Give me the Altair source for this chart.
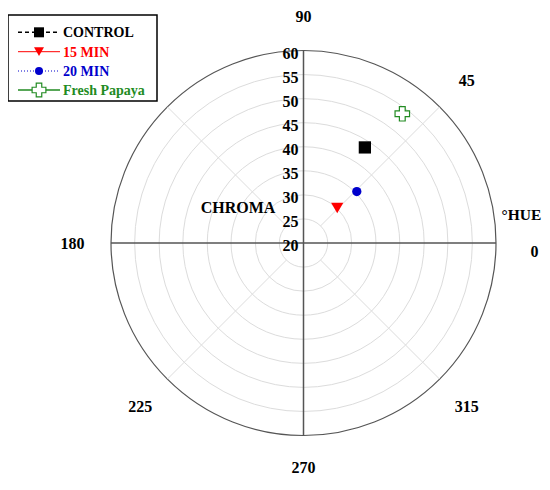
import math
import altair as alt
import pandas as pd

# ---- data ----
series = ["CONTROL", "15 MIN", "20 MIN", "Fresh Papaya"]
hue = [57.3, 46.1, 44.0, 52.6]          # degrees
chroma = [43.6, 30.1, 35.4, 53.8]
colors = ["#000000", "#ff0000", "#0000cc", "#228b22"]
shapes = ["square", "triangle-down", "circle", "cross"]
sizes = [150, 150, 86, 210]
filled = [True, True, True, False]
dashes = [[4, 3], [1, 0], [1, 2], [1, 0]]
line_widths = [1.5, 1, 1, 1.5]
legend_sizes = [100, 100, 64, 190]

ring_values = [25, 30, 35, 40, 45, 50, 55]
outer_ring = [60]
radial_ticks = [20, 25, 30, 35, 40, 45, 50, 55, 60]
hue_labels = [45, 180, 225, 315]
top_label = [90]
bottom_label = [270]
zero_label = [0]
spoke_angles = [45, 135, 225, 315]
axis_angles = [0, 90]

# ---- layout ----
W, H = 534, 474
CX, CY = 295.5, 235.0
R_PX = 192.5
C0, C1 = 20, 60
K = R_PX / (C1 - C0)
LABEL_R = 48.0
xs = alt.Scale(domain=[-CX / K, (W - CX) / K], nice=False, zero=False)
ys = alt.Scale(domain=[-(H - CY) / K, CY / K], nice=False, zero=False)
rs = alt.Scale(type="linear", domain=[C0, C1], range=[0, R_PX], zero=False)
FONT = "Liberation Serif"

def X(f):
    return alt.X(f, type="quantitative", scale=xs, axis=None)

def Y(f):
    return alt.Y(f, type="quantitative", scale=ys, axis=None)

layers = []

# rings
def ring_layer(vals, stroke, sw):
    return alt.Chart(pd.DataFrame({"r": vals})).mark_arc(
        theta=0, theta2=2 * math.pi, filled=False, stroke=stroke, strokeWidth=sw
    ).transform_calculate(cx="0", cy="0").encode(
        x=X("cx"), y=Y("cy"), radius=alt.Radius("r:Q", scale=rs, stack=False)
    )

layers += [ring_layer(ring_values, "#dcdcdc", 1), ring_layer(outer_ring, "#555555", 1.2)]

# spokes
spokes = alt.Chart(pd.DataFrame({"a": spoke_angles})).mark_rule(
    color="#dcdcdc", strokeWidth=1
).transform_calculate(
    x1=f"{ring_values[0]-C0}*cos(datum.a*PI/180)",
    y1=f"{ring_values[0]-C0}*sin(datum.a*PI/180)",
    x2=f"{C1-C0}*cos(datum.a*PI/180)",
    y2=f"{C1-C0}*sin(datum.a*PI/180)",
).encode(x=X("x1"), y=Y("y1"), x2="x2:Q", y2="y2:Q")
layers.append(spokes)

# main axes
axes = alt.Chart(pd.DataFrame({"a": axis_angles})).mark_rule(
    color="#555555", strokeWidth=1.5
).transform_calculate(
    x1=f"-{C1-C0}*cos(datum.a*PI/180)",
    y1=f"-{C1-C0}*sin(datum.a*PI/180)",
    x2=f"{C1-C0}*cos(datum.a*PI/180)",
    y2=f"{C1-C0}*sin(datum.a*PI/180)",
).encode(x=X("x1"), y=Y("y1"), x2="x2:Q", y2="y2:Q")
layers.append(axes)

# radial tick labels
rlab = alt.Chart(pd.DataFrame({"t": radial_ticks})).mark_text(
    align="right", baseline="middle", dx=-5, dy=3, font=FONT, fontWeight="bold",
    fontSize=16, color="#000000"
).transform_calculate(x="0", y=f"datum.t-{C0}").encode(
    x=X("x"), y=Y("y"), text="t:N"
)
layers.append(rlab)

# hue labels
def hue_text(vals, dy):
    return alt.Chart(pd.DataFrame({"a": vals})).mark_text(
        align="center", baseline="middle", dy=dy, font=FONT, fontWeight="bold",
        fontSize=16, color="#000000"
    ).transform_calculate(
        x=f"{LABEL_R}*cos(datum.a*PI/180)", y=f"{LABEL_R}*sin(datum.a*PI/180)"
    ).encode(x=X("x"), y=Y("y"), text="a:N")

layers += [hue_text(hue_labels, 1), hue_text(top_label, 5),
           hue_text(bottom_label, -6), hue_text(zero_label, 9)]

one = pd.DataFrame({"k": [0]})
layers.append(alt.Chart(one).mark_text(
    text="CHROMA", align="center", baseline="middle", font=FONT, fontWeight="bold",
    fontSize=16, color="#000000").encode(x=alt.value(230), y=alt.value(200)))
layers.append(alt.Chart(one).mark_text(
    text="°HUE", align="center", baseline="middle", font=FONT, fontWeight="bold",
    fontSize=15.5, color="#000000").encode(x=alt.value(513.5), y=alt.value(207)))

# data points
df = pd.DataFrame({"series": series, "hue": hue, "chroma": chroma})
for s, col, shp, sz, fl in zip(series, colors, shapes, sizes, filled):
    mk = dict(shape=shp, size=sz, opacity=1)
    if fl:
        mk.update(filled=True, fill=col, stroke=col, strokeWidth=0)
    else:
        mk.update(filled=False, fill="#ffffff", stroke=col, strokeWidth=1.2)
    layers.append(alt.Chart(df).transform_filter(alt.datum.series == s).transform_calculate(
        x=f"(datum.chroma-{C0})*cos(datum.hue*PI/180)",
        y=f"(datum.chroma-{C0})*sin(datum.hue*PI/180)",
    ).mark_point(**mk).encode(x=X("x"), y=Y("y")))

# legend
layers.append(alt.Chart(one).mark_rect(fill="#ffffff", stroke="#000000", strokeWidth=1.5).encode(
    x=alt.value(0), x2=alt.value(149), y=alt.value(7), y2=alt.value(93)))
row_y = [24.3, 43.7, 63.0, 82.0]
for s, col, shp, lsz, fl, dsh, lw, yy in zip(series, colors, shapes, legend_sizes, filled,
                                             dashes, line_widths, row_y):
    layers.append(alt.Chart(one).mark_rule(color=col, strokeDash=dsh, strokeWidth=lw).encode(
        x=alt.value(10), x2=alt.value(52), y=alt.value(yy)))
    mk = dict(shape=shp, size=lsz, opacity=1)
    if fl:
        mk.update(filled=True, fill=col, stroke=col, strokeWidth=0)
    else:
        mk.update(filled=False, fill="#ffffff", stroke=col, strokeWidth=1.2)
    layers.append(alt.Chart(one).mark_point(**mk).encode(x=alt.value(31), y=alt.value(yy)))
    layers.append(alt.Chart(one).mark_text(
        text=s, align="left", baseline="middle", font=FONT, fontWeight="bold",
        fontSize=14, color=col).encode(x=alt.value(55), y=alt.value(yy + 1)))

chart = alt.layer(*layers).properties(
    width=W, height=H, padding=0, autosize="none"
).configure_view(strokeWidth=0)

chart.save("out.html", embed_options={"renderer": "svg", "actions": False})
